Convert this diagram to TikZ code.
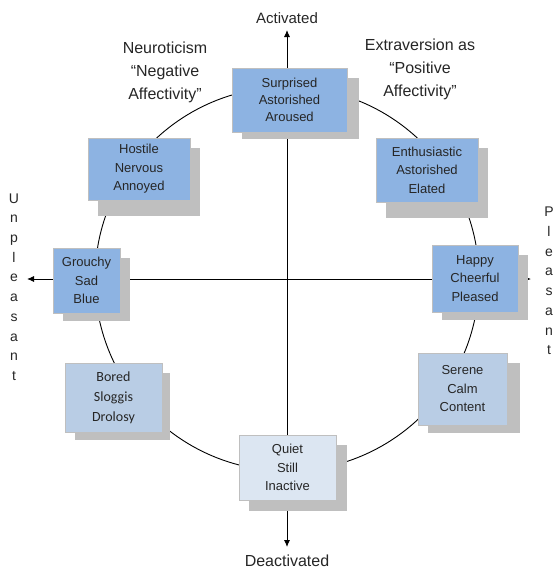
\documentclass[tikz,border=0pt]{standalone}
\usepackage{fontspec}
\setmainfont{Liberation Sans}
\newfontfamily\calfont{Carlito}
\usetikzlibrary{arrows.meta,backgrounds}
\definecolor{bluemain}{HTML}{8DB3E2}
\definecolor{bluelight}{HTML}{B9CDE5}
\definecolor{bluepale}{HTML}{DCE6F2}
\definecolor{shadowgray}{HTML}{BFBFBF}
\definecolor{txt}{HTML}{262626}
\tikzset{
  mood/.style={draw=black!25, line width=0.4pt, align=center, text=txt,
    font=\fontsize{13}{18.5}\selectfont, inner sep=0pt},
  boxshadow/.style={fill=shadowgray, draw=none},
  lbl/.style={align=center, text=txt, font=\fontsize{16}{23}\selectfont},
  axisline/.style={draw=black, line width=0.9pt},
  axisarrow/.style={axisline, -{Latex[length=7pt,width=6pt]}},
  vword/.style={align=center, text=txt, font=\fontsize{14}{19.7}\selectfont}
}
\begin{document}
\begin{tikzpicture}[x=1pt,y=-1pt]
\useasboundingbox (0,0) rectangle (557,570);
% boxes
\node[mood, fill=bluemain, minimum width=115pt, minimum height=64pt, font=\fontsize{13}{17}\selectfont] (surp) at (289.5,100) {Surprised\\Astorished\\Aroused};
\node[mood, fill=bluemain, minimum width=102pt, minimum height=62pt] (host) at (139,169) {Hostile\\Nervous\\Annoyed};
\node[mood, fill=bluemain, minimum width=102pt, minimum height=64pt] (enth) at (427,170) {Enthusiastic\\Astorished\\Elated};
\node[mood, fill=bluemain, minimum width=67pt, minimum height=65pt] (grou) at (86.5,280.5) {Grouchy\\Sad\\Blue};
\node[mood, fill=bluemain, minimum width=86pt, minimum height=67pt] (happ) at (475,278.5) {Happy\\Cheerful\\Pleased};
\node[mood, fill=bluelight, minimum width=97pt, minimum height=69pt, font=\calfont\fontsize{14}{20}\selectfont] (bore) at (113.5,397.5) {Bored\\Sloggis\\Drolosy};
\node[mood, fill=bluelight, minimum width=89pt, minimum height=72pt] (sere) at (462.5,389) {Serene\\Calm\\Content};
\node[mood, fill=bluepale, minimum width=97pt, minimum height=65pt] (quie) at (287.5,467.5) {Quiet\\Still\\Inactive};
% labels
\node[lbl, font=\fontsize{15}{20}\selectfont, anchor=south] (act) at (287,27) {Activated};
\node[lbl, anchor=north] (deac) at (287,551) {Deactivated};
\node[lbl] (neur) at (165,72) {Neuroticism\\“Negative\\Affectivity”};
\node[lbl] (extr) at (420,69) {Extraversion as\\“Positive\\Affectivity”};
\node[vword] (unpl) at (14,287) {U\\n\\p\\l\\e\\a\\s\\a\\n\\t};
\node[vword] (plea) at (549,281) {P\\l\\e\\a\\s\\a\\n\\t};
\coordinate (c) at (287,279);
\coordinate (top) at (287,30);
\coordinate (bot) at (287,547);
\coordinate (lft) at (27,279);
\coordinate (rgt) at (531,279);
\begin{scope}[on background layer]
% circle
\draw[line width=0.9pt] (c) circle[radius=192];
% axes
\draw[axisarrow] (surp.north -| c) -- (top);
\draw[axisline] (surp.south -| c) -- (quie.north -| c);
\draw[axisarrow] (quie.south -| c) -- (bot);
\draw[axisarrow] (grou.west |- c) -- (lft);
\draw[axisline] (grou.east |- c) -- (happ.west |- c);
\draw[axisarrow] (happ.east |- c) -- (rgt);
% shadows
\fill[boxshadow] ([shift={(10,10)}]surp.north west) rectangle ([shift={(12,7)}]surp.south east);
\fill[boxshadow] ([shift={(10,10)}]host.north west) rectangle ([shift={(10,16)}]host.south east);
\fill[boxshadow] ([shift={(10,10)}]enth.north west) rectangle ([shift={(10,16)}]enth.south east);
\fill[boxshadow] ([shift={(10,10)}]grou.north west) rectangle ([shift={(10,8)}]grou.south east);
\fill[boxshadow] ([shift={(10,10)}]happ.north west) rectangle ([shift={(10,8)}]happ.south east);
\fill[boxshadow] ([shift={(10,10)}]bore.north west) rectangle ([shift={(8,8)}]bore.south east);
\fill[boxshadow] ([shift={(10,10)}]sere.north west) rectangle ([shift={(13,8)}]sere.south east);
\fill[boxshadow] ([shift={(10,10)}]quie.north west) rectangle ([shift={(11,11)}]quie.south east);
\end{scope}
\end{tikzpicture}
\end{document}
